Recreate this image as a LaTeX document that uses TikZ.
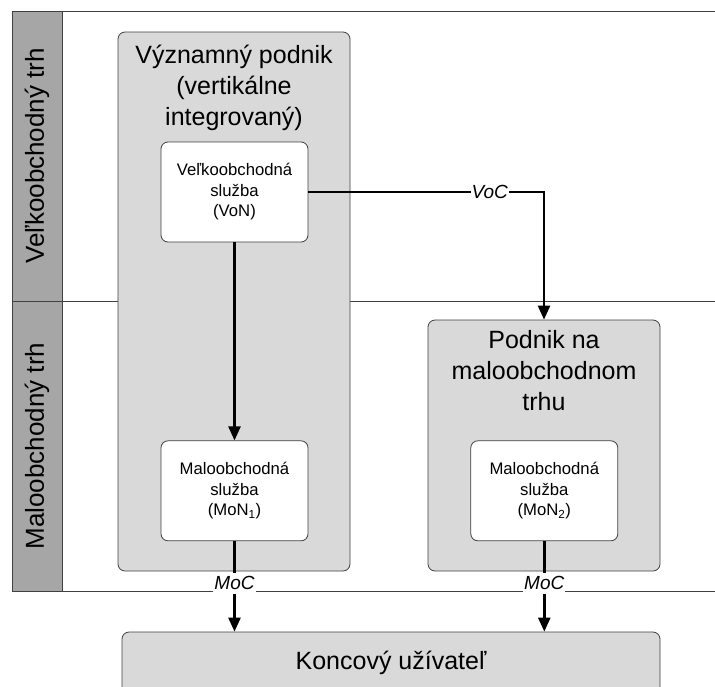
\documentclass[tikz,border=0pt]{standalone}
\usepackage{fontspec}
\setmainfont{Liberation Sans}
\usetikzlibrary{arrows.meta, positioning, calc}
\definecolor{panel}{RGB}{217,217,217}
\definecolor{band}{RGB}{166,166,166}
\definecolor{rim}{RGB}{64,64,64}

\begin{document}
\begin{tikzpicture}[
      x=1pt, y=-1pt,
      bandbox/.style={draw=rim, line width=0.8pt, fill=band},
      sepline/.style={draw=rim, line width=0.8pt},
      firm/.style={rectangle, rounded corners=7pt, draw=rim, line width=0.8pt,
                   fill=panel, inner sep=0pt},
      svc/.style={rectangle, rounded corners=7pt, draw=rim, line width=0.8pt,
                  fill=white, minimum width=147pt, minimum height=100pt,
                  align=center, font=\fontsize{16.7}{20.5}\selectfont},
      ttl/.style={align=center, inner sep=0pt, font=\fontsize{25}{31}\selectfont},
      mkt/.style={rotate=90, inner sep=0pt, font=\fontsize{26}{30}\selectfont},
      lbl/.style={fill=white, inner xsep=1pt, inner ysep=4pt,
                  font=\fontsize{19}{22}\selectfont\itshape},
      arr/.style={-{Triangle[length=14pt,width=12pt]}, line width=2.5pt, draw=black}
    ]
    \useasboundingbox (0,0) rectangle (715,686);
    \clip (0,0) rectangle (715,686);
    % market bands
    \draw[bandbox] (12,11) rectangle (62,301);
    \draw[bandbox] (12,301) rectangle (62,591);
    \node[mkt] (whole) at (37,156) {Veľkoobchodný trh};
    \node[mkt] (retailmkt) at (37,446) {Maloobchodný trh};
    \draw[sepline] (62,11) -- (715,11);
    \draw[sepline] (62,301) -- (715,301);
    \draw[sepline] (62,591) -- (715,591);
    % firms
    \node[firm, minimum width=232pt, minimum height=539pt] (vip) at (234,301.5) {};
    \node[ttl] (viptitle) at (234,88) {Významný podnik\\(vertikálne\\integrovaný)};
    \node[firm, minimum width=232pt, minimum height=251pt] (rfirm) at (544,445.5) {};
    \node[ttl] (rtitle) at (544,371) {Podnik na\\maloobchodnom\\trhu};
    \node[firm, minimum width=538pt, minimum height=62pt] (kon) at (391,663)
      {\fontsize{25}{31}\selectfont\raisebox{3pt}{Koncový užívateľ}};
    % services
    \node[svc] (von) at (234.5,192) {Veľkoobchodná\\služba\\(VoN)};
    \node[svc, below=198pt of von] (mon1) {Maloobchodná\\služba\\(MoN\textsubscript{1})};
    \node[svc, right=162pt of mon1] (mon2) {Maloobchodná\\služba\\(MoN\textsubscript{2})};
    % flows
    \draw[arr] (von) -- (mon1);
    \draw[arr] (von.east) -| node[lbl, pos=0.385] (voc) {VoC} (rfirm.north);
    \draw[arr] (mon1) -- node[lbl, pos=0.467] (moc1) {MoC} (mon1 |- kon.north);
    \draw[arr] (mon2) -- node[lbl, pos=0.467] (moc2) {MoC} (mon2 |- kon.north);
  \end{tikzpicture}
\end{document}
